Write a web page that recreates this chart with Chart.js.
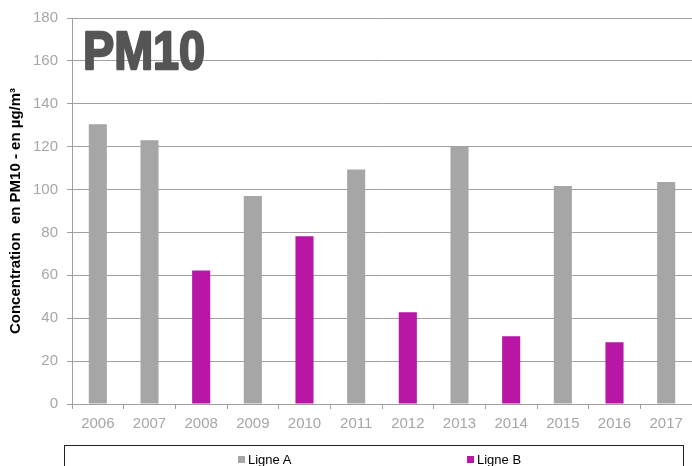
<!DOCTYPE html>
<html>
<head>
<meta charset="utf-8">
<script src="https://cdn.jsdelivr.net/npm/chart.js@4.4.1/dist/chart.umd.min.js"></script>
<style>
  body { margin: 0; background: #fff; }
  #wrap { position: relative; width: 692px; height: 466px; overflow: hidden; }
  #legend {
    position: absolute; left: 64px; top: 445px; width: 620px; height: 40px;
    border: 1px solid #222; box-sizing: border-box;
    font-family: "Liberation Sans", Arial, sans-serif; font-size: 13px; color: #000;
  }
  #legend span.item { position: absolute; top: 6px; white-space: nowrap; }
  #legend span.box { display: inline-block; width: 7px; height: 7px; margin-right: 3px; vertical-align: 1px; }
</style>
</head>
<body>
<div id="wrap">
  <canvas id="bar1" width="692" height="466"></canvas>
  <div id="legend"></div>
</div>
<script>
var years = ["2006", "2007", "2008", "2009", "2010", "2011", "2012", "2013", "2014", "2015", "2016", "2017"];
var ligneA = [130.5, 123, null, 97, null, 109.3, null, 120, null, 101.6, null, 103.5];
var ligneB = [null, null, 62.3, null, 78.2, null, 42.8, null, 31.6, null, 28.8, null];
var yTicks = [0, 20, 40, 60, 80, 100, 120, 140, 160, 180];
var seriesNames = ["Ligne A", "Ligne B"];
var seriesColors = ["#a6a6a6", "#ba16a6"];
var legendX = [173, 402];

var tickGrey = "#a6a6a6";
var lineGrey = "#a0a0a0";

// gros titre "PM10" dans le coin
var pmTitle = {
    id: 'pmTitle',
    afterDraw: function (chart) {
        var ctx = chart.ctx;
        ctx.save();
        ctx.translate(83, 69);
        ctx.scale(0.82, 0.95);
        ctx.font = "bold 57px 'Liberation Sans', Arial, sans-serif";
        ctx.fillStyle = "#555555";
        ctx.strokeStyle = "#555555";
        ctx.lineWidth = 2.5;
        ctx.lineJoin = "round";
        ctx.textBaseline = "alphabetic";
        ctx.fillText("PM10", 0, 0);
        ctx.strokeText("PM10", 0, 0);
        ctx.restore();
    }
};

var barCont = document.getElementById("bar1");
var myBarChart = new Chart(barCont, {
    type: 'bar',
    data: {
        labels: years,
        datasets: [{
            label: seriesNames[0],
            data: ligneA,
            backgroundColor: seriesColors[0]
        }, {
            label: seriesNames[1],
            data: ligneB,
            backgroundColor: seriesColors[1]
        }]
    },
    options: {
        responsive: false,
        animation: false,
        skipNull: true,
        categoryPercentage: 1,
        barPercentage: 0.35,
        layout: { padding: { top: 18, right: 0, left: 0, bottom: 0 } },
        plugins: {
            legend: { display: false },
            tooltip: { enabled: false }
        },
        scales: {
            x: {
                afterFit: function (s) { s.height = 62; },
                grid: { drawOnChartArea: false, drawTicks: true, tickLength: 5, color: lineGrey, offset: true },
                border: { color: lineGrey },
                ticks: { color: tickGrey, padding: 6, font: { family: "'Liberation Sans', Arial", size: 15 } }
            },
            y: {
                min: 0,
                max: 180,
                afterFit: function (s) { s.width = 72; },
                afterBuildTicks: function (s) { s.ticks = yTicks.map(function (v) { return { value: v }; }); },
                grid: { color: lineGrey, tickLength: 5 },
                border: { color: lineGrey },
                ticks: { color: tickGrey, padding: 9, font: { family: "'Liberation Sans', Arial", size: 15 } },
                title: {
                    display: true,
                    text: "Concentration  en PM10 - en µg/m³",
                    color: "#000",
                    padding: { top: 7, bottom: 0 },
                    font: { family: "'Liberation Sans', Arial", size: 15, weight: 'bold' }
                }
            }
        }
    },
    plugins: [pmTitle]
});

// légende en bas, dans un cadre
var leg = document.getElementById("legend");
seriesNames.forEach(function (name, i) {
    var it = document.createElement("span");
    it.className = "item";
    it.style.left = legendX[i] + "px";
    it.innerHTML = '<span class="box" style="background:' + seriesColors[i] + '"></span>' + name;
    leg.appendChild(it);
});
</script>
</body>
</html>
